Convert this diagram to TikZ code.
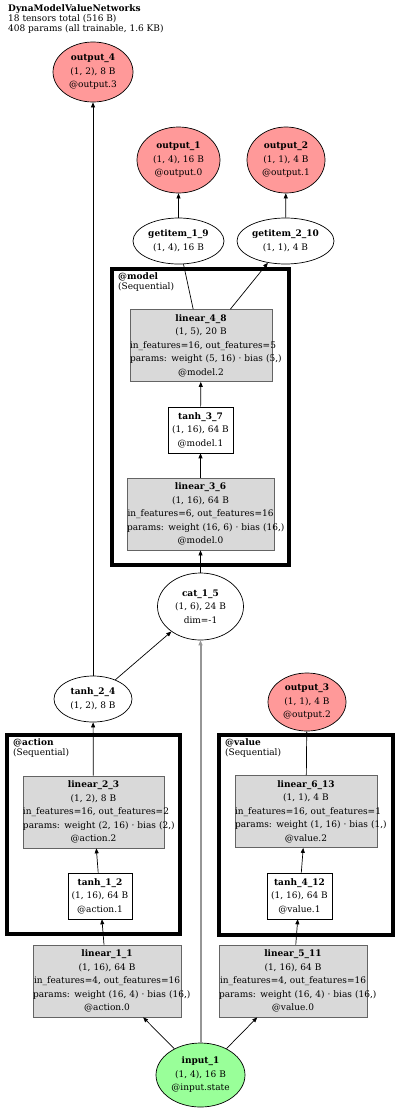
\documentclass[tikz,border=0pt]{standalone}
\usepackage{fontspec}
\setmainfont{DejaVu Serif}
\usetikzlibrary{arrows.meta, shapes.geometric}
\definecolor{outred}{RGB}{255,153,153}
\definecolor{ingreen}{RGB}{153,255,153}
\definecolor{boxgray}{RGB}{217,217,217}
\definecolor{boxline}{RGB}{100,100,100}
\definecolor{skipgray}{RGB}{150,150,150}

\begin{document}
\begin{tikzpicture}[x=1pt, y=-1pt, >={Triangle[length=5pt, width=4pt]},
  every node/.style={font=\fontsize{9}{13.5}\selectfont, align=center, inner sep=0pt},
  oval/.style={draw, ellipse, line width=0.7pt},
  outoval/.style={oval, fill=outred},
  inoval/.style={oval, fill=ingreen},
  layer/.style={draw=boxline, fill=boxgray, line width=0.7pt, text width=#1, minimum width=#1, minimum height=72},
  act/.style={draw, fill=white, line width=0.6pt, minimum width=65, minimum height=46},
  cluster/.style={draw, line width=3.5pt},
  clabel/.style={anchor=north west, align=left, font=\fontsize{9}{10.5}\selectfont},
  edge/.style={->, line width=0.7pt}]
  \useasboundingbox (0,0) rectangle (400,1111);

  % Title
  \node[anchor=north west, align=left, font=\fontsize{9}{10}\selectfont] (title) at (8,4)
    {\textbf{DynaModelValueNetworks}\\18 tensors total (516 B)\\408 params (all trainable, 1.6 KB)};

  % Modules
  \draw[cluster] (112,269) rectangle (289,565);
  \node[clabel] (modlabel) at (118,272) {\textbf{@model}\\(Sequential)};
  \draw[cluster] (7,735) rectangle (180,934);
  \node[clabel] (actlabel) at (13,738) {\textbf{@action}\\(Sequential)};
  \draw[cluster] (219,735) rectangle (393,935);
  \node[clabel] (vallabel) at (225,738) {\textbf{@value}\\(Sequential)};

  % Outputs
  \node[outoval, minimum width=80, minimum height=60] (out4) at (93,72)
    {\textbf{output\_4}\\(1, 2), 8 B\\@output.3};
  \node[outoval, minimum width=83, minimum height=66] (out1) at (178.5,160)
    {\textbf{output\_1}\\(1, 4), 16 B\\@output.0};
  \node[outoval, minimum width=78, minimum height=66] (out2) at (286,160)
    {\textbf{output\_2}\\(1, 1), 4 B\\@output.1};
  \node[outoval, minimum width=78, minimum height=58] (out3) at (307,702)
    {\textbf{output\_3}\\(1, 1), 4 B\\@output.2};

  % Getitems
  \node[oval, minimum width=91, minimum height=46] (get19) at (178.5,241)
    {\textbf{getitem\_1\_9}\\(1, 4), 16 B};
  \node[oval, minimum width=97, minimum height=46] (get210) at (285.5,241)
    {\textbf{getitem\_2\_10}\\(1, 1), 4 B};

  % Model branch
  \node[layer=142] (lin48) at (201,345.5)
    {\textbf{linear\_4\_8}\\(1, 5), 20 B\\\mbox{in\_features=16, out\_features=5}\\\mbox{params: weight (5, 16) · bias (5,)}\\@model.2};
  \node[act] (tanh37) at (200.5,430) {\textbf{tanh\_3\_7}\\(1, 16), 64 B\\@model.1};
  \node[layer=147] (lin36) at (200.5,514)
    {\textbf{linear\_3\_6}\\(1, 16), 64 B\\\mbox{in\_features=6, out\_features=16}\\\mbox{params: weight (16, 6) · bias (16,)}\\@model.0};
  \node[oval, minimum width=86, minimum height=67] (cat15) at (200.5,606.5)
    {\textbf{cat\_1\_5}\\(1, 6), 24 B\\dim=-1};
  \node[oval, minimum width=78, minimum height=46] (tanh24) at (93,699)
    {\textbf{tanh\_2\_4}\\(1, 2), 8 B};

  % Action branch
  \node[layer=141] (lin23) at (93.5,812)
    {\textbf{linear\_2\_3}\\(1, 2), 8 B\\\mbox{in\_features=16, out\_features=2}\\\mbox{params: weight (2, 16) · bias (2,)}\\@action.2};
  \node[act, minimum width=64] (tanh12) at (100,896) {\textbf{tanh\_1\_2}\\(1, 16), 64 B\\@action.1};
  \node[layer=148] (lin11) at (107,981)
    {\textbf{linear\_1\_1}\\(1, 16), 64 B\\\mbox{in\_features=4, out\_features=16}\\\mbox{params: weight (16, 4) · bias (16,)}\\@action.0};

  % Value branch
  \node[layer=142] (lin613) at (306,811.5)
    {\textbf{linear\_6\_13}\\(1, 1), 4 B\\\mbox{in\_features=16, out\_features=1}\\\mbox{params: weight (1, 16) · bias (1,)}\\@value.2};
  \node[act] (tanh412) at (299.5,896) {\textbf{tanh\_4\_12}\\(1, 16), 64 B\\@value.1};
  \node[layer=148] (lin511) at (293,981)
    {\textbf{linear\_5\_11}\\(1, 16), 64 B\\\mbox{in\_features=4, out\_features=16}\\\mbox{params: weight (16, 4) · bias (16,)}\\@value.0};

  % Input
  \node[inoval, minimum width=89, minimum height=64] (input) at (200.5,1075)
    {\textbf{input\_1}\\(1, 4), 16 B\\@input.state};

  % Edges
  \draw[edge] (input) -- (lin11);
  \draw[edge] (input) -- (lin511);
  \draw[edge, skipgray, line width=2pt] (input) -- (cat15);
  \draw[edge] (lin11) -- (tanh12);
  \draw[edge] (tanh12) -- (lin23);
  \draw[edge] (lin23) -- (tanh24);
  \draw[edge] (tanh24) -- (cat15);
  \draw[edge] (tanh24) -- (out4);
  \draw[edge] (cat15) -- (lin36);
  \draw[edge] (lin36) -- (tanh37);
  \draw[edge] (tanh37) -- (lin48);
  \draw[line width=0.7pt] (lin48) -- (get19);
  \draw[edge] (lin48) -- (get210);
  \draw[edge] (get19) -- (out1);
  \draw[edge] (get210) -- (out2);
  \draw[edge] (lin511) -- (tanh412);
  \draw[edge] (tanh412) -- (lin613);
  \draw[edge] (lin613) -- (out3);
\end{tikzpicture}
\end{document}
